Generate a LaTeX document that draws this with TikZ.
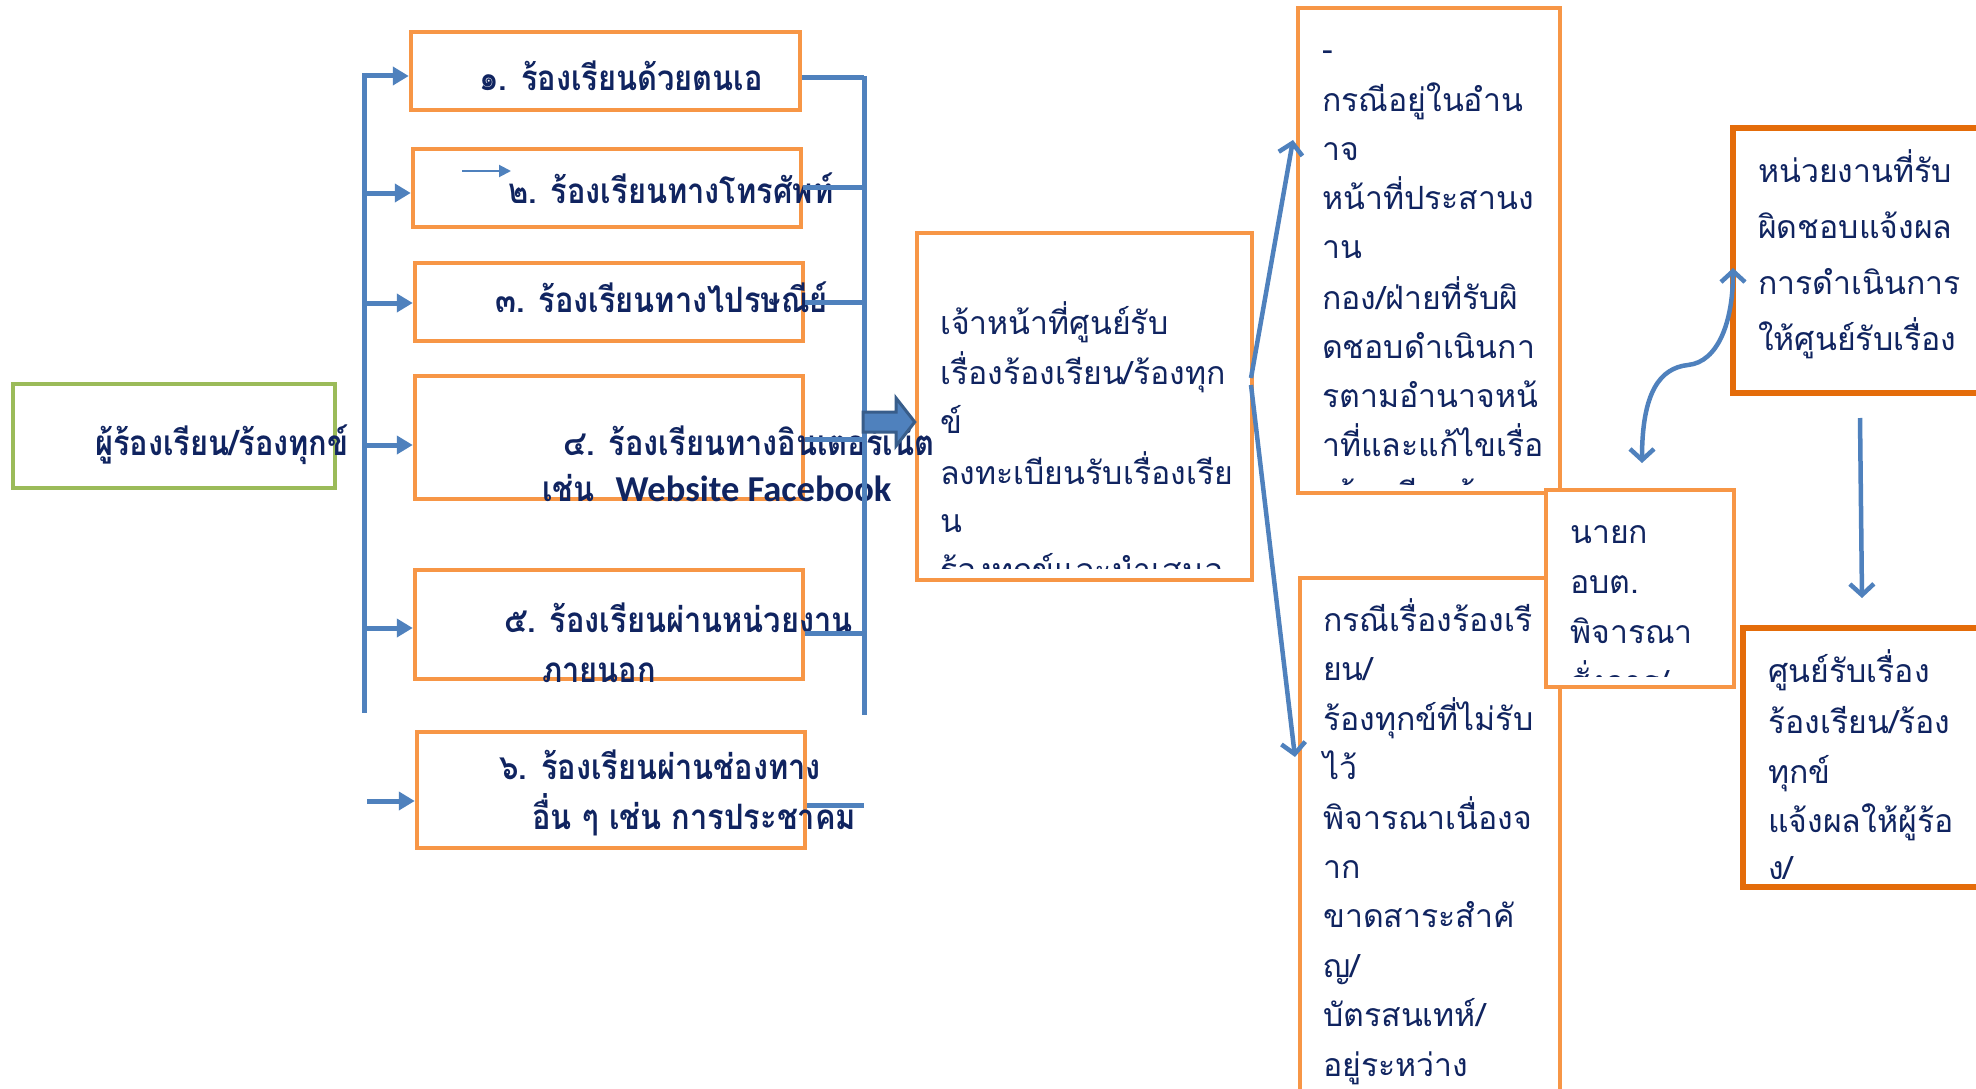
\documentclass[tikz,border=0pt]{standalone}
\usepackage{fontspec}
\usetikzlibrary{arrows.meta}
\newfontfamily\thai[Script=Thai]{Loma}
\newfontfamily\thaicond[Script=Thai,FakeStretch=0.88]{Loma}
\newfontfamily\latb{Carlito}
\definecolor{txtc}{HTML}{102460}
\definecolor{orng}{HTML}{F79646}
\definecolor{dorng}{HTML}{E46C0A}
\definecolor{grn}{HTML}{9BBB59}
\definecolor{blu}{HTML}{4F81BD}
\definecolor{bluD}{HTML}{385D8A}
\tikzset{
 obox/.style={draw=orng, line width=4.5pt, fill=white, inner sep=0pt},
 dbox/.style={draw=dorng, line width=6pt, fill=white, inner sep=0pt},
 gbox/.style={draw=grn, line width=4.5pt, fill=white, inner sep=0pt},
 btxt/.style={inner sep=0pt, anchor=mid west, yshift=-8pt, text=txtc, font=\thaicond\bfseries\fontsize{35}{40}\selectfont},
 rtxt/.style={inner sep=0pt, anchor=mid west, yshift=-8pt, text=txtc, font=\thai\fontsize{32}{38}\selectfont},
 bar/.style={draw=blu, line width=5pt},
 tarr/.style={draw=blu, line width=5pt, -{Triangle[length=16pt,width=18pt]}},
 thinarr/.style={draw=blu, line width=2pt, -{Triangle[length=12pt,width=12pt]}},
 varr/.style={draw=blu, line width=4.5pt, -{Straight Barb[length=11pt,width=24pt]}},
 dvarr/.style={draw=blu, line width=4.5pt, {Straight Barb[length=11pt,width=24pt]}-{Straight Barb[length=11pt,width=24pt]}},
}
\begin{document}
\begin{tikzpicture}[x=1pt,y=-1pt]
\clip (0,0) rectangle (1976,1089);
\fill[white] (0,0) rectangle (1976,1089);
% ---------- boxes
\node[gbox, minimum width=322pt, minimum height=104pt] (src) at (174,436) {};
\node[obox, minimum width=389pt, minimum height=78pt] (b1) at (605.5,71) {};
\node[obox, minimum width=388pt, minimum height=78pt] (b2) at (607,188) {};
\node[obox, minimum width=388pt, minimum height=78pt] (b3) at (609,302) {};
\node[obox, minimum width=388pt, minimum height=123pt] (b4) at (609,437.5) {};
\node[obox, minimum width=388pt, minimum height=109pt] (b5) at (609,624.5) {};
\node[obox, minimum width=388pt, minimum height=116pt] (b6) at (611,790) {};
\node[obox, minimum width=335pt, minimum height=347pt] (cb) at (1084.5,406.5) {};
\node[obox, minimum width=262pt, minimum height=485pt] (tr) at (1429,250.5) {};
\node[obox, minimum width=260pt, minimum height=522pt] (br) at (1430,839) {};
\node[obox, minimum width=188pt, minimum height=197pt] (my) at (1640,588.5) {};
\node[dbox, minimum width=262pt, minimum height=265pt] (r1) at (1864,260.5) {};
\node[dbox, minimum width=252pt, minimum height=259pt] (r2) at (1869,757.5) {};
% ---------- texts, left
\node[btxt] (tsrc) at (95,445) {ผู้ร้องเรียน/ร้องทุกข์};
\node[btxt] (t1) at (479,80) {๑. ร้องเรียนด้วยตนเอ};
\node[btxt] (t2) at (508,193) {๒. ร้องเรียนทางโทรศัพท์};
\node[btxt] (t3) at (495,302) {๓. ร้องเรียนทางไปรษณีย์};
\node[btxt] (t4a) at (563,445) {๔. ร้องเรียนทางอินเตอร์เน็ต};
\node[btxt] (t4b) at (542,491) {เช่น\hspace{21pt}{\latb\bfseries\fontsize{36.5}{40}\selectfont Website Facebook}};
\node[btxt] (t5a) at (504,622) {๕. ร้องเรียนผ่านหน่วยงาน};
\node[btxt] (t5b) at (542,672) {ภายนอก};
\node[btxt] (t6a) at (499,769) {๖. ร้องเรียนผ่านช่องทาง};
\node[btxt] (t6b) at (532,819) {อื่น ๆ เช่น การประชาคม};
% ---------- centre box
\begin{scope}
\clip (920,236) rectangle (1249,568);
\node[rtxt] (c1) at (940,324) {เจ้าหน้าที่ศูนย์รับ};
\node[rtxt] (c2) at (940,374) {เรื่องร้องเรียน/ร้องทุก};
\node[rtxt] (c3) at (940,423) {ข์};
\node[rtxt] (c4) at (940,474) {ลงทะเบียนรับเรื่องเรีย};
\node[rtxt] (c5) at (940,522) {น};
\node[rtxt] (c6) at (940,571) {ร้องทุกข์และนำเสนอ};
\end{scope}
% ---------- top right box
\begin{scope}
\clip (1301,11) rectangle (1557,484);
\node[rtxt] (d1) at (1322,50) {-};
\node[rtxt] (d2) at (1322,101) {กรณีอยู่ในอำน};
\node[rtxt] (d3) at (1322,150) {าจ};
\node[rtxt] (d4) at (1322,199) {หน้าที่ประสานง};
\node[rtxt] (d5) at (1322,248) {าน};
\node[rtxt] (d6) at (1322,299) {กอง/ฝ่ายที่รับผิ};
\node[rtxt] (d7) at (1322,348) {ดชอบดำเนินกา};
\node[rtxt] (d8) at (1322,397) {รตามอำนาจหน้};
\node[rtxt] (d9) at (1322,446) {าที่และแก้ไขเรื่อ};
\node[rtxt] (d10) at (1322,495) {งร้องเรียนร้องทุกข์};
\end{scope}
% ---------- bottom middle box
\node[rtxt] (e1) at (1323,621) {กรณีเรื่องร้องเรี};
\node[rtxt] (e2) at (1323,670) {ยน/};
\node[rtxt] (e3) at (1323,720) {ร้องทุกข์ที่ไม่รับ};
\node[rtxt] (e4) at (1323,769) {ไว้};
\node[rtxt] (e5) at (1323,819) {พิจารณาเนื่องจ};
\node[rtxt] (e6) at (1323,868) {าก};
\node[rtxt] (e7) at (1323,917) {ขาดสาระสำคั};
\node[rtxt] (e8) at (1323,967) {ญ/};
\node[rtxt] (e9) at (1323,1016) {บัตรสนเทห์/};
\node[rtxt] (e10) at (1323,1066) {อยู่ระหว่าง};
% ---------- mayor box
\begin{scope}
\clip (1549,493) rectangle (1731,676);
\node[rtxt] (m1) at (1570,533) {นายก};
\node[rtxt] (m2) at (1570,583) {อบต.};
\node[rtxt] (m3) at (1570,633) {พิจารณา};
\node[rtxt] (m4) at (1570,683) {สั่งการ/};
\end{scope}
% ---------- right boxes
\node[rtxt] (f1) at (1758,172) {หน่วยงานที่รับ};
\node[rtxt] (f2) at (1758,228) {ผิดชอบแจ้งผล};
\node[rtxt] (f3) at (1758,284) {การดำเนินการ};
\node[rtxt] (f4) at (1758,340) {ให้ศูนย์รับเรื่อง};
\begin{scope}
\clip (1746,631) rectangle (1976,878);
\node[rtxt] (g1) at (1768,672) {ศูนย์รับเรื่อง};
\node[rtxt] (g2) at (1768,723) {ร้องเรียน/ร้อง};
\node[rtxt] (g3) at (1768,773) {ทุกข์};
\node[rtxt] (g4) at (1768,822) {แจ้งผลให้ผู้ร้อ};
\node[rtxt] (g5) at (1768,869) {ง/};
\end{scope}
% ---------- connectors, left bar
\coordinate (lbT) at (364,73);
\coordinate (lbB) at (364,713);
\draw[bar] (lbT) -- (lbB);
\coordinate (a1) at (364,76);
\coordinate (a2) at (364,193);
\coordinate (a3) at (364,303);
\coordinate (a4) at (364,445);
\coordinate (a5) at (364,628);
\coordinate (a6) at (367,801);
\draw[tarr] (a1) -- (a1 -| b1.west);
\draw[tarr] (a2) -- (a2 -| b2.west);
\draw[tarr] (a3) -- (a3 -| b3.west);
\draw[tarr] (a4) -- (a4 -| b4.west);
\draw[tarr] (a5) -- (a5 -| b5.west);
\draw[tarr] (a6) -- (a6 -| b6.west);
\coordinate (sa1) at (462,171);
\coordinate (sa2) at (511,171);
\draw[thinarr] (sa1) -- (sa2);
% right bar
\coordinate (rbT) at (864,76);
\coordinate (rbB) at (864,715);
\draw[bar] (rbT) -- (rbB);
\coordinate (q1) at (864,78);
\coordinate (q2) at (864,187);
\coordinate (q3) at (864,302);
\coordinate (q4) at (864,439);
\coordinate (q5) at (864,633);
\coordinate (q6) at (864,805);
\draw[bar] (q1 -| b1.east) -- (q1);
\draw[bar] (q2 -| b2.east) -- (q2);
\draw[bar] (q3 -| b3.east) -- (q3);
\draw[bar] (q4 -| b4.east) -- (q4);
\draw[bar] (q5 -| b5.east) -- (q5);
\draw[bar] (q6 -| b6.east) -- (q6);
% block arrow into centre box
\coordinate (ba) at (863,422);
\draw[fill=blu, draw=bluD, line width=3pt, line join=miter]
  (ba) ++(0,-10) -- ++(33,0) -- ++(0,-14) -- (cb.west |- ba) -- (896,446) -- ++(0,-14) -- (863,432) -- cycle;
% centre box to right boxes
\coordinate (cu) at (1251,378);
\coordinate (cd) at (1251,385);
\coordinate (tu) at (1293,140);
\coordinate (td) at (1295,757);
\draw[varr] (cu) -- (tu);
\draw[varr] (cd) -- (td);
% curved double arrow
\coordinate (ce1) at (1642,463);
\coordinate (ce2) at (1733,268);
\draw[dvarr] (ce1) .. controls (1642,392) and (1660,368) .. (1688,365) .. controls (1718,362) and (1733,322) .. (ce2);
% vertical arrow
\coordinate (va1) at (1860,418);
\coordinate (va2) at (1862,598);
\draw[varr] (va1) -- (va2);
\end{tikzpicture}
\end{document}
